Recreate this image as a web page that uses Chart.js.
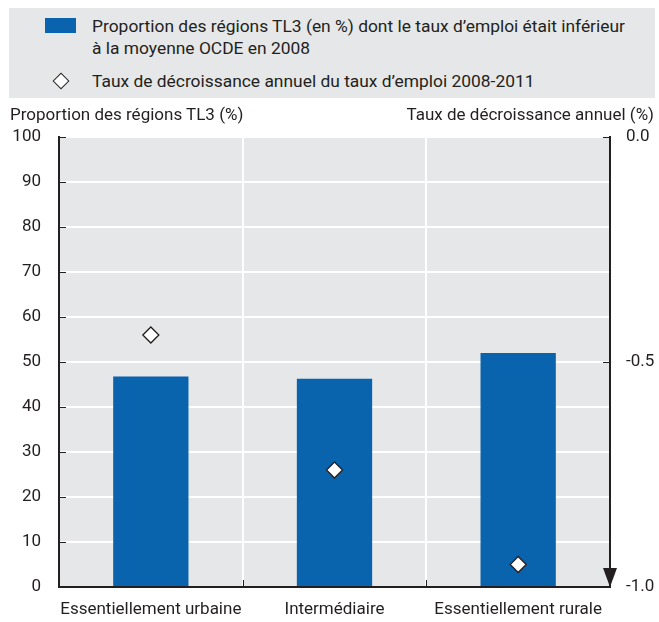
<!DOCTYPE html>
<html>
<head>
<meta charset="utf-8">
<script src="https://cdn.jsdelivr.net/npm/chart.js@4"></script>
<style>
  html, body { margin: 0; padding: 0; background: #fff; }
  body { width: 659px; height: 622px; position: relative; overflow: hidden;
         font-family: "Roboto", sans-serif; color: #231f20; }
  #legend { position: absolute; left: 9px; top: 8px; width: 646px; height: 90px; background: #e6e7e8; }
  .item { position: absolute; left: 83px; font-size: 17.4px; line-height: 22px; }
  .swatch { position: absolute; left: 36px; top: 10px; width: 31px; height: 15px; background: #0a63ad; }
  .diamond { position: absolute; left: 46px; top: 67px; width: 10px; height: 10px; background: #fff;
             border: 1.5px solid #231f20; transform: rotate(45deg); }
  .ytitle { position: absolute; top: 104px; font-size: 17px; }
  #chart { position: absolute; left: 0; top: 0; }
</style>
</head>
<body>
<canvas id="chart" width="659" height="622"></canvas>
<div id="legend">
  <div class="swatch"></div>
  <div class="item" style="top:7px">Proportion des régions TL3 (en %) dont le taux d’emploi était inférieur<br>à la moyenne OCDE en 2008</div>
  <div class="diamond"></div>
  <div class="item" style="top:62px">Taux de décroissance annuel du taux d’emploi 2008-2011</div>
</div>
<div class="ytitle" style="left:10px">Proportion des régions TL3 (%)</div>
<div class="ytitle" style="right:5px">Taux de décroissance annuel (%)</div>
<script>
const categories = ['Essentiellement urbaine', 'Intermédiaire', 'Essentiellement rurale'];
const shareBelowAvg = [46.8, 46.3, 52.0];
const declineRate = [-0.44, -0.74, -0.95];
const leftTicks = [0, 10, 20, 30, 40, 50, 60, 70, 80, 90, 100];
const rightTicks = [-1.0, -0.5, 0.0];

const ink = '#231f20';

// grey plot background, inward tick marks and the arrow on the right axis
const decorations = {
  id: 'decorations',
  beforeDraw(chart) {
    const { ctx, chartArea: a } = chart;
    ctx.save();
    ctx.fillStyle = '#e6e7e8';
    ctx.fillRect(a.left, a.top, a.right - a.left, a.bottom - a.top);
    ctx.restore();
  },
  afterDatasetsDraw(chart) {
    const { ctx, chartArea: a, scales } = chart;
    ctx.save();
    ctx.strokeStyle = ink;
    ctx.lineWidth = 1;
    ctx.beginPath();
    leftTicks.forEach(v => {
      const y = Math.round(scales.y.getPixelForValue(v)) + 0.5;
      ctx.moveTo(a.left, y); ctx.lineTo(a.left + 7, y);
    });
    rightTicks.forEach(v => {
      const y = Math.round(scales.y1.getPixelForValue(v)) + 0.5;
      ctx.moveTo(a.right, y); ctx.lineTo(a.right - 7, y);
    });
    for (let i = 1; i < categories.length; i++) {
      const x = Math.round((scales.x.getPixelForValue(i - 1) + scales.x.getPixelForValue(i)) / 2) + 0.5;
      ctx.moveTo(x, a.bottom); ctx.lineTo(x, a.bottom - 7);
    }
    ctx.stroke();
    ctx.fillStyle = ink;
    ctx.beginPath();
    ctx.moveTo(a.right - 7, a.bottom - 19);
    ctx.lineTo(a.right + 7, a.bottom - 19);
    ctx.lineTo(a.right, a.bottom);
    ctx.closePath();
    ctx.fill();
    ctx.restore();
  }
};

Chart.defaults.font.family = 'Roboto, sans-serif';
Chart.defaults.font.size = 17;
Chart.defaults.color = ink;

new Chart(document.getElementById('chart'), {
  data: {
    labels: categories,
    datasets: [
      {
        type: 'scatter',
        label: 'Taux de décroissance annuel du taux d’emploi 2008-2011',
        data: declineRate,
        yAxisID: 'y1',
        pointStyle: 'rectRot',
        pointRadius: 8,
        pointBackgroundColor: '#ffffff',
        pointBorderColor: ink,
        pointBorderWidth: 1.3,
        showLine: false,
        order: 0
      },
      {
        type: 'bar',
        label: 'Proportion des régions TL3 (en %) dont le taux d’emploi était inférieur à la moyenne OCDE en 2008',
        data: shareBelowAvg,
        yAxisID: 'y',
        backgroundColor: '#0a63ad',
        categoryPercentage: 1,
        barPercentage: 0.41,
        order: 1
      }
    ]
  },
  options: {
    responsive: false,
    animation: false,
    layout: { padding: { top: 137, left: 2, right: 0, bottom: 0 } },
    plugins: { legend: { display: false }, tooltip: { enabled: false } },
    scales: {
      x: {
        type: 'category',
        offset: true,
        grid: { offset: true, color: '#ffffff', lineWidth: 2, drawTicks: false },
        border: { color: ink, width: 2 },
        ticks: { padding: 13, maxRotation: 0, minRotation: 0, autoSkip: false },
        afterFit: s => { s.height = 35; }
      },
      y: {
        position: 'left',
        min: 0, max: 100,
        afterBuildTicks: s => { s.ticks = leftTicks.map(v => ({ value: v })); },
        grid: { color: '#ffffff', lineWidth: 2, drawTicks: false },
        border: { color: ink, width: 2 },
        ticks: { padding: 18 },
        afterFit: s => { s.width = 57; }
      },
      y1: {
        position: 'right',
        min: -1, max: 0,
        afterBuildTicks: s => { s.ticks = rightTicks.map(v => ({ value: v })); },
        grid: { display: false, drawTicks: false },
        border: { color: ink, width: 2 },
        ticks: { padding: 16, callback: v => v.toFixed(1) },
        afterFit: s => { s.width = 49; }
      }
    }
  },
  plugins: [decorations]
});
</script>
</body>
</html>
